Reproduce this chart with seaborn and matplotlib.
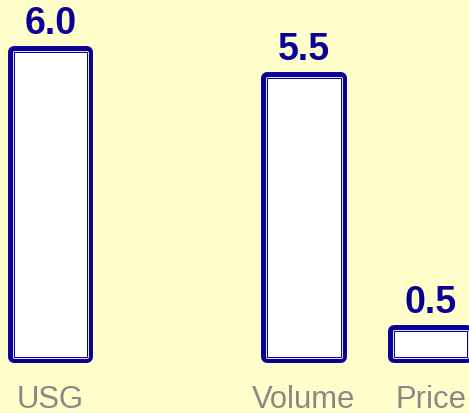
import matplotlib
matplotlib.use("Agg")
import matplotlib.pyplot as plt
import matplotlib.patheffects as pe
import seaborn as sns
import pandas as pd

categories = ["USG", "Volume", "Price"]
values = [6.0, 5.5, 0.5]
slot_order = ["USG", " ", "Volume", "Price"]  # blank slot between USG and Volume

bg = "#FFFFCC"
navy = "#0A0099"
gray = "#888888"

sns.set_style("white")
plt.rcParams["font.family"] = ["Liberation Sans", "DejaVu Sans"]

df = pd.DataFrame({"cat": categories, "val": values})

fig = plt.figure(figsize=(4.69, 4.14), dpi=100, facecolor=bg)
ax = fig.add_axes([0, 0.1357, 1, 0.8643])
ax.set_facecolor(bg)

sns.barplot(data=df, x="cat", y="val", order=slot_order, width=0.58,
            color="white", edgecolor=navy, linewidth=0.72, saturation=1,
            errorbar=None, ax=ax)

for p in ax.patches:
    p.set_clip_on(False)
    p.set_joinstyle("round")
    p.set_path_effects([
        pe.Stroke(linewidth=8.6, foreground=navy, joinstyle="round"),
        pe.Stroke(linewidth=2.0, foreground="white"),
        pe.Normal(),
    ])
    ax.annotate(f"{p.get_height():.1f}",
                (p.get_x() + p.get_width() / 2, p.get_height()),
                xytext=(0, 13.7), textcoords="offset points",
                ha="center", va="baseline", fontsize=27,
                fontweight="bold", color=navy, annotation_clip=False)

ax.set_xlim(-0.3967, 3.302)
ax.set_ylim(0, 7.047)
ax.set_xlabel("")
ax.set_ylabel("")
ax.set_yticks([])
ax.tick_params(axis="x", length=0, pad=19.5, labelsize=22.3, labelcolor=gray)
for s in ax.spines.values():
    s.set_visible(False)

fig.savefig("out.png", dpi=100, facecolor=bg)
